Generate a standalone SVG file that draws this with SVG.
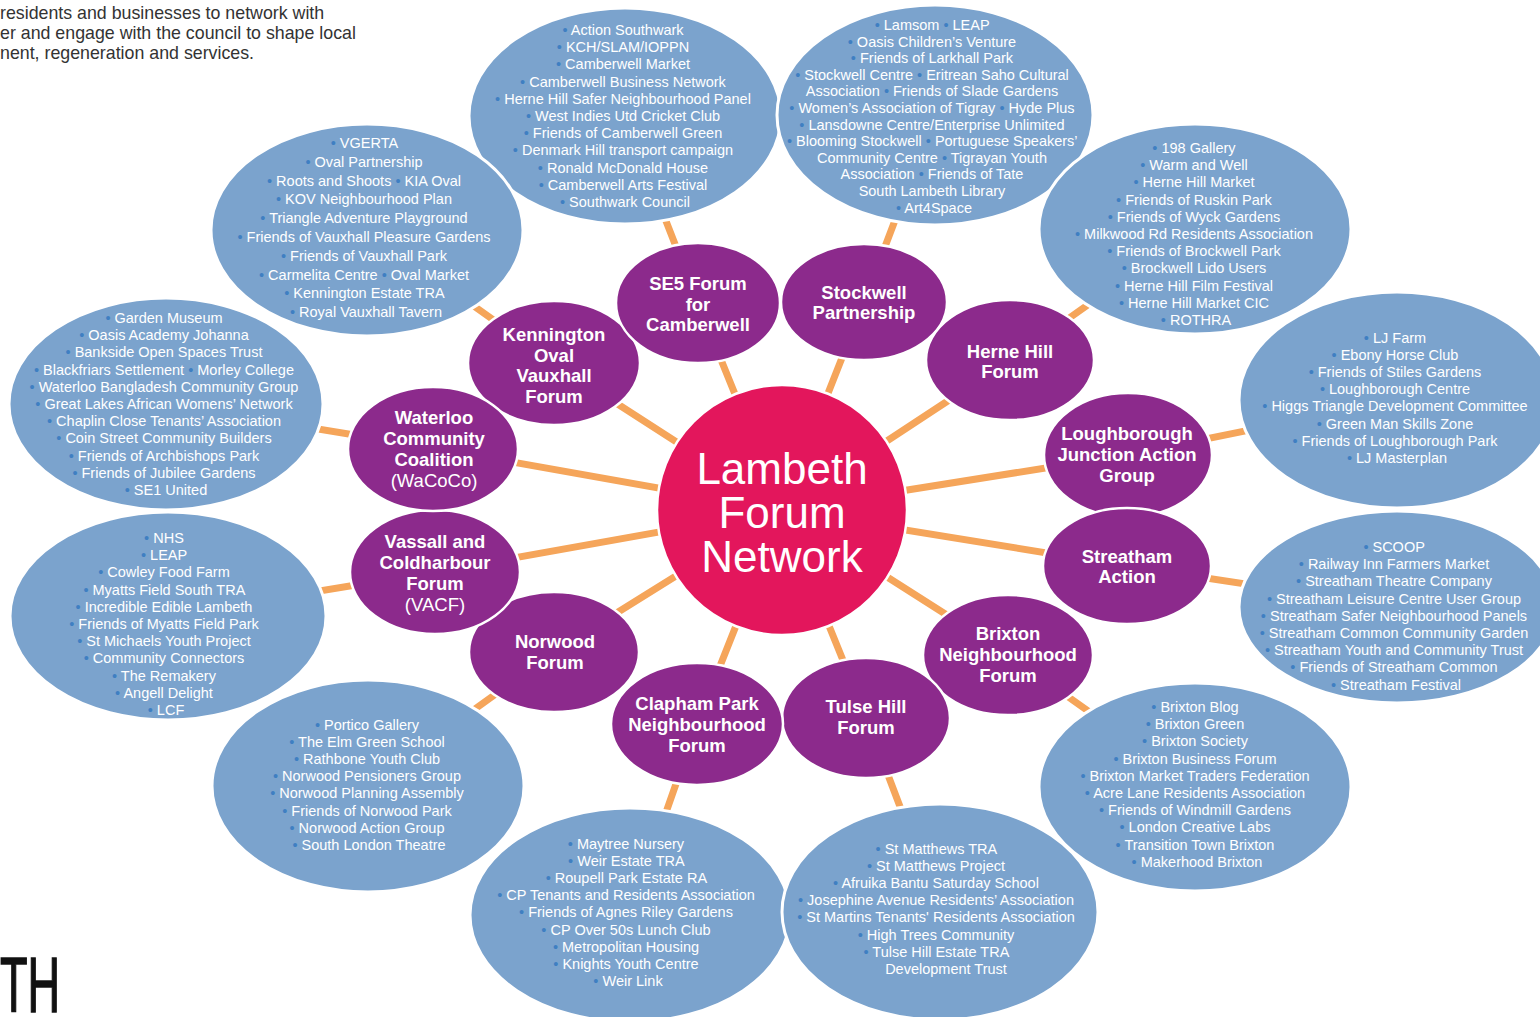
<svg xmlns="http://www.w3.org/2000/svg" width="1540" height="1017" viewBox="0 0 1540 1017">
<style>
.conn{stroke:#f5a55a;stroke-width:7;fill:none}
.blob{fill:#7ba3cd;stroke:#fff;stroke-width:3}
.node{fill:#8c2a8c;stroke:#fff;stroke-width:2.5}
.hub{fill:#e3165c;stroke:#fff;stroke-width:2.5}
.lt{font-family:"Liberation Sans",Arial,sans-serif;font-size:14.5px;fill:#fff;text-anchor:middle}
.b{fill:#3f7fc2}
.nt{font-family:"Liberation Sans",Arial,sans-serif;font-weight:bold;font-size:18.5px;fill:#fff;text-anchor:middle}
.nr{font-weight:normal}
.ht{font-family:"Liberation Sans",Arial,sans-serif;font-size:44px;fill:#fff;text-anchor:middle}
.intro{font-family:"Liberation Sans",Arial,sans-serif;font-size:17.8px;fill:#333}
</style>
<rect width="1540" height="1017" fill="#fff"/>

<g id="intro-text">
<text class="intro" x="0" y="19"> residents and businesses to network with</text>
<text class="intro" x="0" y="39">er and engage with the council to shape local</text>
<text class="intro" x="0" y="59">nent, regeneration and services.</text>
</g>
<g id="logo-fragment">
<text x="0" y="1012" font-family="Liberation Sans,Arial,sans-serif" font-size="77" fill="#111" stroke="#111" stroke-width="1.5" textLength="60" lengthAdjust="spacingAndGlyphs">TH</text>
</g>

<g id="connectors">
<polyline class="conn" points="782,510 698,303 625,116"/>
<polyline class="conn" points="782,510 864,302 935,115"/>
<polyline class="conn" points="782,510 1010,360 1195,229"/>
<polyline class="conn" points="782,510 1127,455 1397,400"/>
<polyline class="conn" points="782,510 1127,566 1397,607"/>
<polyline class="conn" points="782,510 1008,654 1195,787"/>
<polyline class="conn" points="782,510 866,717 940,912"/>
<polyline class="conn" points="782,510 697,724 630,915"/>
<polyline class="conn" points="782,510 554,652 368,786"/>
<polyline class="conn" points="782,510 435,572 168,616"/>
<polyline class="conn" points="782,510 434,448 166,404"/>
<polyline class="conn" points="782,510 554,363 367,230"/>
</g>

<g id="group-camberwell">
<ellipse class="blob" cx="625" cy="116" rx="156" ry="108"/>
<text class="lt">
<tspan x="625" y="35"><tspan class="b">•</tspan> Action Southwark</tspan>
<tspan x="625" y="52.2"><tspan class="b">•</tspan> KCH/SLAM/IOPPN</tspan>
<tspan x="625" y="69.4"><tspan class="b">•</tspan> Camberwell Market</tspan>
<tspan x="625" y="86.6"><tspan class="b">•</tspan> Camberwell Business Network</tspan>
<tspan x="625" y="103.8"><tspan class="b">•</tspan> Herne Hill Safer Neighbourhood Panel</tspan>
<tspan x="625" y="121"><tspan class="b">•</tspan> West Indies Utd Cricket Club</tspan>
<tspan x="625" y="138.2"><tspan class="b">•</tspan> Friends of Camberwell Green</tspan>
<tspan x="625" y="155.4"><tspan class="b">•</tspan> Denmark Hill transport campaign</tspan>
<tspan x="625" y="172.6"><tspan class="b">•</tspan> Ronald McDonald House</tspan>
<tspan x="625" y="189.8"><tspan class="b">•</tspan> Camberwell Arts Festival</tspan>
<tspan x="625" y="207"><tspan class="b">•</tspan> Southwark Council</tspan>
</text>
</g>

<g id="group-stockwell">
<ellipse class="blob" cx="935" cy="115" rx="158" ry="110"/>
<text class="lt">
<tspan x="934" y="30"><tspan class="b">•</tspan> Lamsom <tspan class="b">•</tspan> LEAP</tspan>
<tspan x="934" y="46.6"><tspan class="b">•</tspan> Oasis Children’s Venture</tspan>
<tspan x="934" y="63.2"><tspan class="b">•</tspan> Friends of Larkhall Park</tspan>
<tspan x="934" y="79.8"><tspan class="b">•</tspan> Stockwell Centre <tspan class="b">•</tspan> Eritrean Saho Cultural</tspan>
<tspan x="934" y="96.4">Association <tspan class="b">•</tspan> Friends of Slade Gardens</tspan>
<tspan x="934" y="113"><tspan class="b">•</tspan> Women’s Association of Tigray <tspan class="b">•</tspan> Hyde Plus</tspan>
<tspan x="934" y="129.6"><tspan class="b">•</tspan> Lansdowne Centre/Enterprise Unlimited</tspan>
<tspan x="934" y="146.2"><tspan class="b">•</tspan> Blooming Stockwell <tspan class="b">•</tspan> Portuguese Speakers’</tspan>
<tspan x="934" y="162.8">Community Centre <tspan class="b">•</tspan> Tigrayan Youth</tspan>
<tspan x="934" y="179.4">Association <tspan class="b">•</tspan> Friends of Tate</tspan>
<tspan x="934" y="196">South Lambeth Library</tspan>
<tspan x="934" y="212.6"><tspan class="b">•</tspan> Art4Space</tspan>
</text>
</g>

<g id="group-kennington">
<ellipse class="blob" cx="367" cy="230" rx="156" ry="106"/>
<text class="lt">
<tspan x="366" y="148"><tspan class="b">•</tspan> VGERTA</tspan>
<tspan x="366" y="166.8"><tspan class="b">•</tspan> Oval Partnership</tspan>
<tspan x="366" y="185.6"><tspan class="b">•</tspan> Roots and Shoots <tspan class="b">•</tspan> KIA Oval</tspan>
<tspan x="366" y="204.4"><tspan class="b">•</tspan> KOV Neighbourhood Plan</tspan>
<tspan x="366" y="223.2"><tspan class="b">•</tspan> Triangle Adventure Playground</tspan>
<tspan x="366" y="242"><tspan class="b">•</tspan> Friends of Vauxhall Pleasure Gardens</tspan>
<tspan x="366" y="260.8"><tspan class="b">•</tspan> Friends of  Vauxhall Park</tspan>
<tspan x="366" y="279.6"><tspan class="b">•</tspan> Carmelita Centre  <tspan class="b">•</tspan> Oval Market</tspan>
<tspan x="366" y="298.4"><tspan class="b">•</tspan> Kennington Estate TRA</tspan>
<tspan x="366" y="317.2"><tspan class="b">•</tspan> Royal Vauxhall Tavern</tspan>
</text>
</g>

<g id="group-hernehill">
<ellipse class="blob" cx="1195" cy="229" rx="156" ry="105"/>
<text class="lt">
<tspan x="1196" y="153"><tspan class="b">•</tspan> 198 Gallery</tspan>
<tspan x="1196" y="170.2"><tspan class="b">•</tspan> Warm and Well</tspan>
<tspan x="1196" y="187.4"><tspan class="b">•</tspan> Herne Hill Market</tspan>
<tspan x="1196" y="204.6"><tspan class="b">•</tspan> Friends of Ruskin Park</tspan>
<tspan x="1196" y="221.8"><tspan class="b">•</tspan> Friends of Wyck Gardens</tspan>
<tspan x="1196" y="239"><tspan class="b">•</tspan> Milkwood Rd Residents Association</tspan>
<tspan x="1196" y="256.2"><tspan class="b">•</tspan> Friends of Brockwell Park</tspan>
<tspan x="1196" y="273.4"><tspan class="b">•</tspan> Brockwell Lido Users</tspan>
<tspan x="1196" y="290.6"><tspan class="b">•</tspan> Herne Hill Film Festival</tspan>
<tspan x="1196" y="307.8"><tspan class="b">•</tspan> Herne Hill Market CIC</tspan>
<tspan x="1196" y="325"><tspan class="b">•</tspan> ROTHRA</tspan>
</text>
</g>

<g id="group-waterloo">
<ellipse class="blob" cx="166" cy="404" rx="157" ry="106"/>
<text class="lt">
<tspan x="166" y="323"><tspan class="b">•</tspan> Garden Museum</tspan>
<tspan x="166" y="340.2"><tspan class="b">•</tspan> Oasis Academy Johanna</tspan>
<tspan x="166" y="357.4"><tspan class="b">•</tspan> Bankside Open Spaces Trust</tspan>
<tspan x="166" y="374.6"><tspan class="b">•</tspan> Blackfriars Settlement <tspan class="b">•</tspan> Morley College</tspan>
<tspan x="166" y="391.8"><tspan class="b">•</tspan> Waterloo Bangladesh Community Group</tspan>
<tspan x="166" y="409"><tspan class="b">•</tspan> Great Lakes African Womens’ Network</tspan>
<tspan x="166" y="426.2"><tspan class="b">•</tspan> Chaplin Close Tenants’ Association</tspan>
<tspan x="166" y="443.4"><tspan class="b">•</tspan> Coin Street Community Builders</tspan>
<tspan x="166" y="460.6"><tspan class="b">•</tspan> Friends of Archbishops Park</tspan>
<tspan x="166" y="477.8"><tspan class="b">•</tspan> Friends of Jubilee Gardens</tspan>
<tspan x="166" y="495"><tspan class="b">•</tspan> SE1 United</tspan>
</text>
</g>

<g id="group-loughborough">
<ellipse class="blob" cx="1397" cy="400" rx="158" ry="108"/>
<text class="lt">
<tspan x="1397" y="343"><tspan class="b">•</tspan> LJ Farm</tspan>
<tspan x="1397" y="360.1"><tspan class="b">•</tspan> Ebony Horse Club</tspan>
<tspan x="1397" y="377.2"><tspan class="b">•</tspan> Friends of Stiles Gardens</tspan>
<tspan x="1397" y="394.3"><tspan class="b">•</tspan> Loughborough Centre</tspan>
<tspan x="1397" y="411.4"><tspan class="b">•</tspan> Higgs Triangle Development Committee</tspan>
<tspan x="1397" y="428.5"><tspan class="b">•</tspan> Green Man Skills Zone</tspan>
<tspan x="1397" y="445.6"><tspan class="b">•</tspan> Friends of Loughborough Park</tspan>
<tspan x="1397" y="462.7"><tspan class="b">•</tspan> LJ Masterplan</tspan>
</text>
</g>

<g id="group-vassall">
<ellipse class="blob" cx="168" cy="616" rx="158" ry="104"/>
<text class="lt">
<tspan x="166" y="543"><tspan class="b">•</tspan> NHS</tspan>
<tspan x="166" y="560.2"><tspan class="b">•</tspan> LEAP</tspan>
<tspan x="166" y="577.4"><tspan class="b">•</tspan> Cowley Food Farm</tspan>
<tspan x="166" y="594.6"><tspan class="b">•</tspan> Myatts Field South TRA</tspan>
<tspan x="166" y="611.8"><tspan class="b">•</tspan> Incredible Edible Lambeth</tspan>
<tspan x="166" y="629"><tspan class="b">•</tspan> Friends of Myatts Field Park</tspan>
<tspan x="166" y="646.2"><tspan class="b">•</tspan> St Michaels Youth Project</tspan>
<tspan x="166" y="663.4"><tspan class="b">•</tspan> Community Connectors</tspan>
<tspan x="166" y="680.6"><tspan class="b">•</tspan> The Remakery</tspan>
<tspan x="166" y="697.8"><tspan class="b">•</tspan> Angell Delight</tspan>
<tspan x="166" y="715"><tspan class="b">•</tspan> LCF</tspan>
</text>
</g>

<g id="group-streatham">
<ellipse class="blob" cx="1397" cy="607" rx="158" ry="96"/>
<text class="lt">
<tspan x="1396" y="552"><tspan class="b">•</tspan> SCOOP</tspan>
<tspan x="1396" y="569.2"><tspan class="b">•</tspan>  Railway Inn Farmers Market</tspan>
<tspan x="1396" y="586.4"><tspan class="b">•</tspan> Streatham Theatre Company</tspan>
<tspan x="1396" y="603.6"><tspan class="b">•</tspan> Streatham Leisure Centre User Group</tspan>
<tspan x="1396" y="620.8"><tspan class="b">•</tspan> Streatham Safer Neighbourhood Panels</tspan>
<tspan x="1396" y="638"><tspan class="b">•</tspan> Streatham Common Community Garden</tspan>
<tspan x="1396" y="655.2"><tspan class="b">•</tspan> Streatham Youth and Community Trust</tspan>
<tspan x="1396" y="672.4"><tspan class="b">•</tspan> Friends of Streatham Common</tspan>
<tspan x="1396" y="689.6"><tspan class="b">•</tspan> Streatham Festival</tspan>
</text>
</g>

<g id="group-norwood">
<ellipse class="blob" cx="368" cy="786" rx="156" ry="106"/>
<text class="lt">
<tspan x="369" y="730"><tspan class="b">•</tspan> Portico Gallery</tspan>
<tspan x="369" y="747.1"><tspan class="b">•</tspan> The Elm Green School</tspan>
<tspan x="369" y="764.2"><tspan class="b">•</tspan> Rathbone Youth Club</tspan>
<tspan x="369" y="781.3"><tspan class="b">•</tspan> Norwood Pensioners Group</tspan>
<tspan x="369" y="798.4"><tspan class="b">•</tspan> Norwood Planning Assembly</tspan>
<tspan x="369" y="815.5"><tspan class="b">•</tspan> Friends of Norwood Park</tspan>
<tspan x="369" y="832.6"><tspan class="b">•</tspan> Norwood Action Group</tspan>
<tspan x="369" y="849.7"><tspan class="b">•</tspan> South London Theatre</tspan>
</text>
</g>

<g id="group-clapham">
<ellipse class="blob" cx="630" cy="915" rx="160" ry="107"/>
<text class="lt">
<tspan x="628" y="849"><tspan class="b">•</tspan> Maytree Nursery</tspan>
<tspan x="628" y="866.1"><tspan class="b">•</tspan> Weir Estate TRA</tspan>
<tspan x="628" y="883.2"><tspan class="b">•</tspan> Roupell Park Estate RA</tspan>
<tspan x="628" y="900.3"><tspan class="b">•</tspan> CP Tenants and Residents Association</tspan>
<tspan x="628" y="917.4"><tspan class="b">•</tspan> Friends of Agnes Riley Gardens</tspan>
<tspan x="628" y="934.5"><tspan class="b">•</tspan> CP Over 50s Lunch Club</tspan>
<tspan x="628" y="951.6"><tspan class="b">•</tspan> Metropolitan Housing</tspan>
<tspan x="628" y="968.7"><tspan class="b">•</tspan> Knights Youth Centre</tspan>
<tspan x="628" y="985.8"><tspan class="b">•</tspan> Weir Link</tspan>
</text>
</g>

<g id="group-tulsehill">
<ellipse class="blob" cx="940" cy="912" rx="158" ry="108"/>
<text class="lt">
<tspan x="938" y="854"><tspan class="b">•</tspan> St Matthews TRA</tspan>
<tspan x="938" y="871.1"><tspan class="b">•</tspan> St Matthews Project</tspan>
<tspan x="938" y="888.2"><tspan class="b">•</tspan> Afruika Bantu Saturday School</tspan>
<tspan x="938" y="905.3"><tspan class="b">•</tspan> Josephine Avenue Residents’ Association</tspan>
<tspan x="938" y="922.4"><tspan class="b">•</tspan> St Martins Tenants' Residents Association</tspan>
<tspan x="938" y="939.5"><tspan class="b">•</tspan> High Trees Community</tspan>
<tspan x="938" y="956.6"><tspan class="b">•</tspan> Tulse Hill Estate TRA</tspan>
<tspan x="946" y="973.7">Development Trust</tspan>
</text>
</g>

<g id="group-brixton">
<ellipse class="blob" cx="1195" cy="787" rx="156" ry="104"/>
<text class="lt">
<tspan x="1197" y="712"><tspan class="b">•</tspan> Brixton Blog</tspan>
<tspan x="1197" y="729.2"><tspan class="b">•</tspan> Brixton Green</tspan>
<tspan x="1197" y="746.4"><tspan class="b">•</tspan> Brixton Society</tspan>
<tspan x="1197" y="763.6"><tspan class="b">•</tspan> Brixton Business Forum</tspan>
<tspan x="1197" y="780.8"><tspan class="b">•</tspan> Brixton Market Traders Federation</tspan>
<tspan x="1197" y="798"><tspan class="b">•</tspan> Acre Lane Residents Association</tspan>
<tspan x="1197" y="815.2"><tspan class="b">•</tspan> Friends of Windmill Gardens</tspan>
<tspan x="1197" y="832.4"><tspan class="b">•</tspan> London Creative Labs</tspan>
<tspan x="1197" y="849.6"><tspan class="b">•</tspan> Transition Town Brixton</tspan>
<tspan x="1197" y="866.8"><tspan class="b">•</tspan> Makerhood Brixton</tspan>
</text>
</g>

<g id="node-kennington">
<ellipse class="node" cx="554" cy="363" rx="86" ry="62"/>
<text class="nt"><tspan x="554" y="340.5">Kennington</tspan><tspan x="554" y="361.5">Oval</tspan><tspan x="554" y="381.5">Vauxhall</tspan><tspan x="554" y="402.5">Forum</tspan></text>
</g>
<g id="node-se5">
<ellipse class="node" cx="698" cy="303" rx="82" ry="60"/>
<text class="nt"><tspan x="698" y="290">SE5 Forum</tspan><tspan x="698" y="310.5">for</tspan><tspan x="698" y="331">Camberwell</tspan></text>
</g>
<g id="node-stockwell">
<ellipse class="node" cx="864" cy="302" rx="83" ry="58"/>
<text class="nt"><tspan x="864" y="298.5">Stockwell</tspan><tspan x="864" y="318.5">Partnership</tspan></text>
</g>
<g id="node-hernehill">
<ellipse class="node" cx="1010" cy="360" rx="84" ry="60"/>
<text class="nt"><tspan x="1010" y="357.5">Herne Hill</tspan><tspan x="1010" y="377.5">Forum</tspan></text>
</g>
<g id="node-loughborough">
<ellipse class="node" cx="1128" cy="455" rx="84" ry="62"/>
<text class="nt"><tspan x="1127" y="439.5">Loughborough</tspan><tspan x="1127" y="460.5">Junction Action</tspan><tspan x="1127" y="482">Group</tspan></text>
</g>
<g id="node-streatham">
<ellipse class="node" cx="1127" cy="566" rx="84" ry="58"/>
<text class="nt"><tspan x="1127" y="562.5">Streatham</tspan><tspan x="1127" y="582.5">Action</tspan></text>
</g>
<g id="node-brixton">
<ellipse class="node" cx="1008" cy="655" rx="85" ry="60"/>
<text class="nt"><tspan x="1008" y="639.5">Brixton</tspan><tspan x="1008" y="660.5">Neighbourhood</tspan><tspan x="1008" y="681.5">Forum</tspan></text>
</g>
<g id="node-tulsehill">
<ellipse class="node" cx="866" cy="718" rx="84" ry="60"/>
<text class="nt"><tspan x="866" y="712.5">Tulse Hill</tspan><tspan x="866" y="733.5">Forum</tspan></text>
</g>
<g id="node-clapham">
<ellipse class="node" cx="697" cy="724" rx="86" ry="61"/>
<text class="nt"><tspan x="697" y="709.5">Clapham Park</tspan><tspan x="697" y="730.5">Neighbourhood</tspan><tspan x="697" y="751.5">Forum</tspan></text>
</g>
<g id="node-norwood">
<ellipse class="node" cx="554" cy="652" rx="85" ry="60"/>
<text class="nt"><tspan x="555" y="647.5">Norwood</tspan><tspan x="555" y="668.5">Forum</tspan></text>
</g>
<g id="node-vassall">
<ellipse class="node" cx="435" cy="572" rx="85" ry="62"/>
<text class="nt"><tspan x="435" y="547.5">Vassall and</tspan><tspan x="435" y="568.5">Coldharbour</tspan><tspan x="435" y="589.5">Forum</tspan><tspan x="435" y="610.5" class="nr">(VACF)</tspan></text>
</g>
<g id="node-waterloo">
<ellipse class="node" cx="433" cy="449" rx="85" ry="62"/>
<text class="nt"><tspan x="434" y="423.5">Waterloo</tspan><tspan x="434" y="444.5">Community</tspan><tspan x="434" y="465.5">Coalition</tspan><tspan x="434" y="486.5" class="nr">(WaCoCo)</tspan></text>
</g>

<g id="node-hub">
<circle class="hub" cx="782" cy="510" r="125"/>
<text class="ht"><tspan x="782" y="484">Lambeth</tspan><tspan x="782" y="528">Forum</tspan><tspan x="782" y="572">Network</tspan></text>
</g>
</svg>
